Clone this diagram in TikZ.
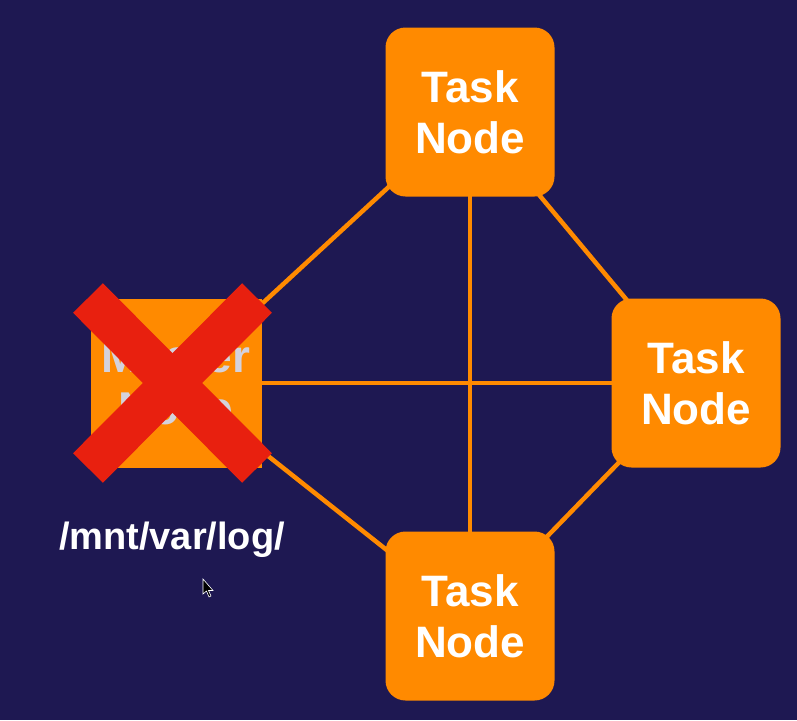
\documentclass[tikz,border=0pt]{standalone}
\usepackage{fontspec}
\setmainfont{Liberation Sans}
\usetikzlibrary{positioning,backgrounds}
\definecolor{bgnavy}{HTML}{1E1852}
\definecolor{taskorange}{HTML}{FF8A00}
\definecolor{crossred}{HTML}{E8200F}
\definecolor{fadedtext}{HTML}{D4D2DC}

\begin{document}
\begin{tikzpicture}[x=1pt,y=-1pt]
\tikzset{
  task/.style={fill=taskorange, rounded corners=20pt, minimum width=169pt,
    minimum height=169pt, inner sep=0pt, align=center, text=white,
    font=\fontsize{44}{51}\selectfont\bfseries},
  master/.style={task, rounded corners=0pt, minimum width=171pt,
    minimum height=169pt, text=fadedtext, font=\fontsize{46}{52}\selectfont\bfseries},
  link/.style={taskorange, line width=4.5pt},
  cross/.style={crossred, line width=42pt},
  pathlabel/.style={text=white, font=\fontsize{38}{44}\selectfont\bfseries}
}
\useasboundingbox (0,0) rectangle (797,720);
% nodes
\node[master] (mnode) at (176,383) {Master\\Node};
\node[task] (ttop) at (470,112) {Task\\Node};
\node[task] (tright) at (696,383) {Task\\Node};
\node[task] (tbottom) at (470,616) {Task\\Node};
\node[pathlabel] (logdir) at (172,540) {/mnt/var/log/};
% links
\begin{pgfonlayer}{background}
\fill[bgnavy] (0,0) rectangle (797,720);
\draw[link] (mnode.center) -- (ttop.center);
\draw[link] (mnode.center) -- (tright.center);
\draw[link] (mnode.center) -- (tbottom.center);
\draw[link] (ttop.center) -- (tbottom.center);
\draw[link] (ttop.center) -- (tright.center);
\draw[link] (tbottom.center) -- (tright.center);
\end{pgfonlayer}
% the cross over the master
\coordinate (xa) at (88,298);
\coordinate (xb) at (257,468);
\coordinate (xc) at (257,298);
\coordinate (xd) at (88,468);
\draw[cross] (xa) -- (xb);
\draw[cross] (xc) -- (xd);
% pointer
\filldraw[fill=black, draw=white, line width=0.6pt]
  (203,579) -- (203,594) -- (206.5,591) -- (209,597) -- (211,596)
  -- (208.5,590.5) -- (213,590.5) -- cycle;
\end{tikzpicture}
\end{document}
